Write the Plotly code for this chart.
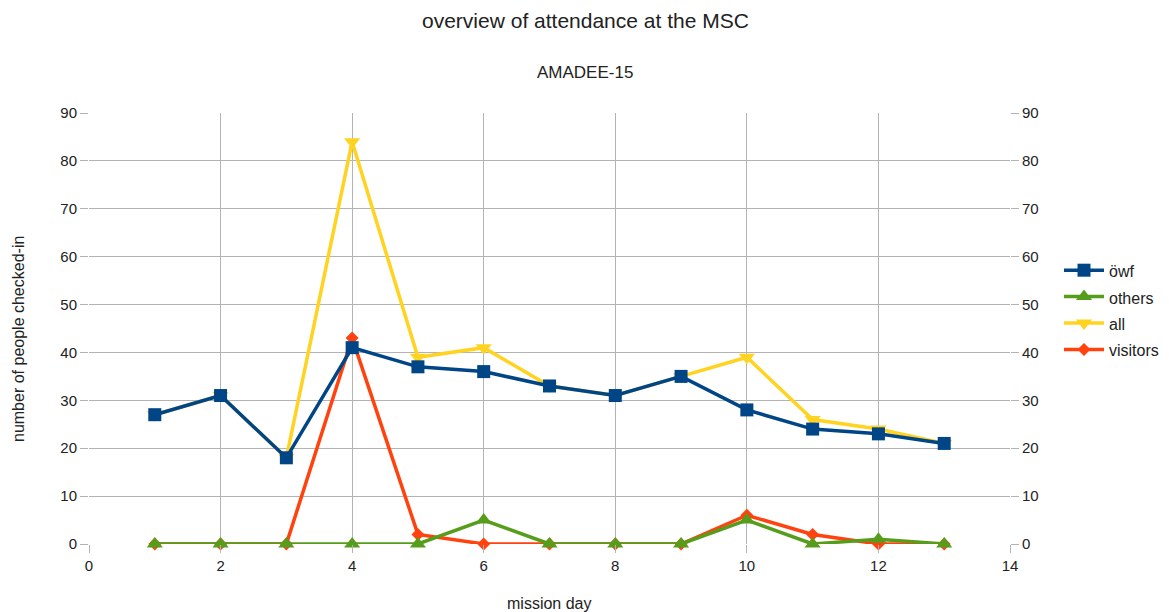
import plotly.graph_objects as go

days = list(range(1, 14))
owf = [27, 31, 18, 41, 37, 36, 33, 31, 35, 28, 24, 23, 21]
others = [0, 0, 0, 0, 0, 5, 0, 0, 0, 5, 0, 1, 0]
all_ = [27, 31, 18, 84, 39, 41, 33, 31, 35, 39, 26, 24, 21]
visitors = [0, 0, 0, 43, 2, 0, 0, 0, 0, 6, 2, 0, 0]

def nm(s):
    return '<span style="font-size:16px">' + s + '</span>'

LW = 3.5
fig = go.Figure()
fig.add_trace(go.Scatter(x=days, y=all_, name=nm("all"), mode="lines+markers",
                         line=dict(color="#ffd320", width=LW), cliponaxis=False,
                         marker=dict(symbol="triangle-down", size=14), legendrank=3))
fig.add_trace(go.Scatter(x=days, y=visitors, name=nm("visitors"), mode="lines+markers",
                         line=dict(color="#ff420e", width=LW), cliponaxis=False,
                         marker=dict(symbol="diamond", size=10), legendrank=4))
fig.add_trace(go.Scatter(x=days, y=others, name=nm("others"), mode="lines+markers",
                         line=dict(color="#579d1c", width=LW), cliponaxis=False,
                         marker=dict(symbol="triangle-up", size=14), legendrank=2))
fig.add_trace(go.Scatter(x=days, y=owf, name=nm("öwf"), mode="lines+markers",
                         line=dict(color="#004586", width=LW), cliponaxis=False,
                         marker=dict(symbol="square", size=13), legendrank=1))
# invisible trace to show right axis
fig.add_trace(go.Scatter(x=days, y=owf, yaxis="y2", mode="lines", showlegend=False,
                         hoverinfo="skip", line=dict(color="rgba(0,0,0,0)")))

W, H = 1169, 612
OFF = 8  # page offset of the figure
L, T = 89 - OFF, 113 - OFF
R = W - (1010 - OFF)
B = H - (544 - OFF)
pw = W - L - R
ph = H - T - B

def px_x(x):
    return (x - OFF - L) / pw

def px_y(y):
    return (H - B - (y - OFF)) / ph

font = "Liberation Sans, Arial, sans-serif"
tc = "#222"
fig.update_layout(
    width=W, height=H,
    paper_bgcolor="white", plot_bgcolor="white",
    font=dict(family=font, size=15, color=tc),
    margin=dict(l=L, r=R, t=T, b=B),
    showlegend=True,
    legend=dict(x=px_x(1059), y=px_y(310), xanchor="left", yanchor="middle",
                font=dict(size=18, color=tc), itemwidth=40,
                bgcolor="rgba(0,0,0,0)"),
    annotations=[
        dict(text="overview of attendance at the MSC", x=px_x(585), y=px_y(20),
             xref="paper", yref="paper", xanchor="center", yanchor="middle",
             showarrow=False, font=dict(size=21, color=tc)),
        dict(text="AMADEE-15", x=px_x(585), y=px_y(73), xref="paper", yref="paper",
             xanchor="center", yanchor="middle", showarrow=False,
             font=dict(size=17, color=tc)),
        dict(text="mission day", x=px_x(549), y=px_y(603), xref="paper", yref="paper",
             xanchor="center", yanchor="middle", showarrow=False,
             font=dict(size=16, color=tc)),
        dict(text="number of people checked-in", x=px_x(18), y=px_y(339), xref="paper",
             yref="paper", xanchor="center", yanchor="middle", textangle=-90,
             showarrow=False, font=dict(size=16, color=tc)),
    ],
    xaxis=dict(range=[0, 14], tickmode="linear", tick0=0, dtick=2,
               showgrid=True, gridcolor="#b3b3b3", gridwidth=1, zeroline=False,
               showline=False, ticks="outside", ticklen=8, tickcolor="#b3b3b3",
               tickfont=dict(size=15)),
    yaxis=dict(range=[0, 90], tickmode="linear", tick0=0, dtick=10,
               showgrid=True, gridcolor="#b3b3b3", gridwidth=1, zeroline=False,
               showline=False, ticks="outside", ticklen=8, tickcolor="#b3b3b3",
               tickfont=dict(size=15)),
    yaxis2=dict(range=[0, 90], tickmode="linear", tick0=0, dtick=10, overlaying="y",
                side="right", showgrid=False, zeroline=False, ticks="outside",
                ticklen=8, tickcolor="#b3b3b3", tickfont=dict(size=15)),
)

fig.write_html("out.html")
